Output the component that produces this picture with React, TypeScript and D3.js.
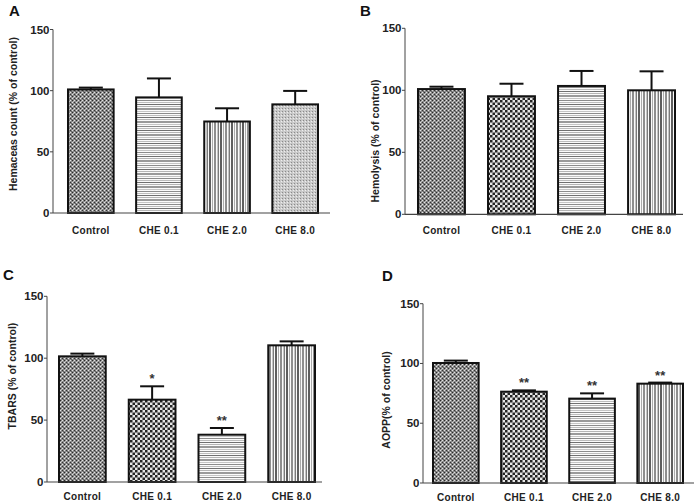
import React from 'react'
import { scaleBand, scaleLinear } from 'd3'

// groups on the x axis
const categories = ['Control', 'CHE 0.1', 'CHE 2.0', 'CHE 8.0']
const yTicks = [0, 50, 100, 150]

// A - hemaceas count
const hemaceasMean = [101, 94.5, 74.8, 88.8]
const hemaceasSem = [1.5, 15.5, 10.8, 11.0]
// B - hemolysis
const hemolysisMean = [101, 95.2, 103.5, 100]
const hemolysisSem = [1.9, 10.1, 12.1, 15.3]
// C - TBARS
const tbarsMean = [101.5, 66.5, 38.2, 110.4]
const tbarsSem = [2.2, 10.8, 5.4, 3.2]
const tbarsSig = ['', '*', '**', '']
// D - AOPP
const aoppMean = [100.4, 76.4, 70.6, 83.1]
const aoppSem = [2.0, 1.1, 4.4, 0.9]
const aoppSig = ['', '**', '**', '**']

const font = '"Liberation Sans", Arial, sans-serif'

type PanelProps = {
  letter: string
  title: string
  mean: number[]
  sem: number[]
  sig?: string[]
  fills: string[]
  lay: {
    letterX: number; letterY: number
    axisX: number; axisEnd: number
    y0: number; yTop: number
    barL: number; barR: number
    titleX: number; titleY: number
    tickY: number
  }
}

function Panel({ letter, title, mean, sem, sig, fills, lay }: PanelProps) {
  const y = scaleLinear().domain([0, 150]).range([lay.y0, lay.yTop])
  const x = scaleBand<string>()
    .domain(categories)
    .range([lay.barL, lay.barR])
    .paddingInner(0.33)
    .paddingOuter(0)
  const bw = x.bandwidth()

  return (
    <g>
      <text x={lay.letterX} y={lay.letterY} fontFamily={font} fontWeight="bold" fontSize={15} fill="#111">
        {letter}
      </text>
      {/* y axis */}
      <line x1={lay.axisX} x2={lay.axisX} y1={y(150)} y2={lay.y0} stroke="#444" strokeWidth={1} />
      {yTicks.map(t => (
        <g key={t}>
          <line x1={lay.axisX - 3} x2={lay.axisX} y1={y(t)} y2={y(t)} stroke="#444" strokeWidth={1} />
          <text x={lay.axisX - 3.5} y={y(t)} dy="0.35em" textAnchor="end" fontFamily={font}
            fontWeight="bold" fontSize={11.5} fill="#222">{t}</text>
        </g>
      ))}
      <text transform={`translate(${lay.titleX},${lay.titleY}) rotate(-90)`} dy="0.35em" textAnchor="middle"
        fontFamily={font} fontWeight="bold" fontSize={10.5} fill="#222">{title}</text>

      {/* bars */}
      {categories.map((c, i) => {
        const top = y(mean[i])
        const errTop = y(mean[i] + sem[i])
        const cx = x(c)! + bw / 2
        return (
          <g key={c}>
            <line x1={cx} x2={cx} y1={top} y2={errTop} stroke="#111" strokeWidth={2} />
            <line x1={cx - 12} x2={cx + 12} y1={errTop} y2={errTop} stroke="#111" strokeWidth={2} />
            <rect x={x(c)} y={top} width={bw} height={lay.y0 - top} fill={fills[i]} stroke="#111" strokeWidth={2} />
            {sig && sig[i] && (
              <text x={cx} y={errTop - 3} textAnchor="middle" fontFamily={font} fontWeight="bold"
                fontSize={13} fill="#333">{sig[i]}</text>
            )}
            <text x={cx} y={lay.tickY} textAnchor="middle" fontFamily={font} fontWeight="bold"
              fontSize={10} fill="#222" letterSpacing={0.3}>{c}</text>
          </g>
        )
      })}

      {/* x axis */}
      <line x1={lay.axisX} x2={lay.axisEnd} y1={lay.y0} y2={lay.y0} stroke="#444" strokeWidth={1.2} />
    </g>
  )
}

function Patterns() {
  return (
    <defs>
      <pattern id="grid" patternUnits="userSpaceOnUse" width={4} height={4}>
        <rect width={4} height={4} fill="#8a8a8a" />
        <rect x={0} y={0} width={1} height={1} fill="#2a2a2a" />
        <rect x={2} y={2} width={1} height={1} fill="#333" />
        <rect x={2} y={0} width={1} height={1} fill="#e4e4e4" />
        <rect x={0} y={2} width={1} height={1} fill="#e4e4e4" />
        <rect x={1} y={1} width={1} height={1} fill="#b8b8b8" />
        <rect x={3} y={3} width={1} height={1} fill="#666" />
      </pattern>
      <pattern id="checker" patternUnits="userSpaceOnUse" width={5} height={5}>
        <rect width={5} height={5} fill="#e6e6e6" />
        <rect x={0} y={0} width={2.5} height={2.5} fill="#242424" />
        <rect x={2.5} y={2.5} width={2.5} height={2.5} fill="#242424" />
      </pattern>
      <pattern id="dots" patternUnits="userSpaceOnUse" width={3} height={3}>
        <rect width={3} height={3} fill="#c9c9c9" />
        <rect x={0} y={0} width={1} height={1} fill="#8a8a8a" />
        <rect x={2} y={1} width={1} height={1} fill="#eee" />
      </pattern>
      <pattern id="vlines" patternUnits="userSpaceOnUse" width={11} height={4}>
        <rect width={11} height={4} fill="#fafafa" />
        <rect x={0} y={0} width={2} height={4} fill="#5e5e5e" />
        <rect x={3} y={0} width={1} height={4} fill="#ababab" />
        <rect x={5} y={0} width={2} height={4} fill="#8e8e8e" />
        <rect x={8} y={0} width={1} height={4} fill="#c4c4c4" />
        <rect x={9} y={0} width={1} height={4} fill="#7a7a7a" />
      </pattern>
      <pattern id="hlines" patternUnits="userSpaceOnUse" width={4} height={13}>
        <rect width={4} height={13} fill="#fbfbfb" />
        <rect x={0} y={0} width={4} height={1} fill="#707070" />
        <rect x={0} y={2} width={4} height={1} fill="#b5b5b5" />
        <rect x={0} y={4} width={4} height={2} fill="#9a9a9a" />
        <rect x={0} y={7} width={4} height={1} fill="#c5c5c5" />
        <rect x={0} y={9} width={4} height={1} fill="#8c8c8c" />
        <rect x={0} y={11} width={4} height={1} fill="#bdbdbd" />
      </pattern>
    </defs>
  )
}

export default function App() {
  return (
    <svg width={699} height={504} style={{ position: 'absolute', left: 0, top: 0, background: '#fff' }}>
      <Patterns />
      <Panel letter="A" title="Hemaceas count (% of control)" mean={hemaceasMean} sem={hemaceasSem}
        fills={['url(#grid)', 'url(#hlines)', 'url(#vlines)', 'url(#dots)']}
        lay={{ letterX: 9, letterY: 16, axisX: 53, axisEnd: 330, y0: 213, yTop: 29.5, barL: 68, barR: 318,
          titleX: 13, titleY: 114, tickY: 234 }} />
      <Panel letter="B" title="Hemolysis (% of control)" mean={hemolysisMean} sem={hemolysisSem}
        fills={['url(#grid)', 'url(#checker)', 'url(#hlines)', 'url(#vlines)']}
        lay={{ letterX: 360, letterY: 16, axisX: 405, axisEnd: 683, y0: 214.3, yTop: 28.3, barL: 418, barR: 675,
          titleX: 375, titleY: 141, tickY: 234 }} />
      <Panel letter="C" title="TBARS (% of control)" mean={tbarsMean} sem={tbarsSem} sig={tbarsSig}
        fills={['url(#grid)', 'url(#checker)', 'url(#hlines)', 'url(#vlines)']}
        lay={{ letterX: 3, letterY: 280, axisX: 47, axisEnd: 322, y0: 482, yTop: 296.3, barL: 59, barR: 315,
          titleX: 12, titleY: 376, tickY: 500 }} />
      <Panel letter="D" title="AOPP(% of control)" mean={aoppMean} sem={aoppSem} sig={aoppSig}
        fills={['url(#grid)', 'url(#checker)', 'url(#hlines)', 'url(#vlines)']}
        lay={{ letterX: 382, letterY: 281, axisX: 423, axisEnd: 694, y0: 483, yTop: 303.7, barL: 433, barR: 683,
          titleX: 386, titleY: 400, tickY: 501 }} />
    </svg>
  )
}
